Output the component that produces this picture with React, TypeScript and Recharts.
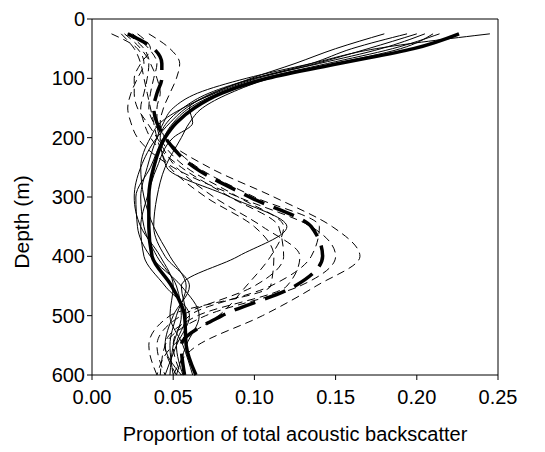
import React from 'react';
import { LineChart, Line, XAxis, YAxis, ReferenceLine, Label } from 'recharts';

// depth (m) at which every profile is sampled
const depths = [25, 50, 75, 100, 125, 150, 175, 200, 250, 300, 350, 400, 450, 500, 550, 600];

// thin solid profiles (surface maximum)
const solid1 = [0.245, 0.175, 0.135, 0.095, 0.065, 0.05, 0.044, 0.04, 0.034, 0.03, 0.032, 0.04, 0.052, 0.055, 0.05, 0.048];
const solid2 = [0.214, 0.185, 0.145, 0.105, 0.078, 0.06, 0.05, 0.044, 0.036, 0.027, 0.028, 0.036, 0.055, 0.066, 0.058, 0.052];
const solid3 = [0.194, 0.16, 0.135, 0.1, 0.074, 0.058, 0.048, 0.04, 0.03, 0.026, 0.03, 0.042, 0.05, 0.048, 0.056, 0.062];
const solid4 = [0.18, 0.15, 0.125, 0.098, 0.075, 0.06, 0.062, 0.05, 0.04, 0.034, 0.03, 0.032, 0.045, 0.06, 0.052, 0.045];
const solid5 = [0.21, 0.19, 0.15, 0.11, 0.085, 0.068, 0.06, 0.055, 0.045, 0.04, 0.038, 0.045, 0.06, 0.05, 0.045, 0.055];
const solid6 = [0.205, 0.178, 0.14, 0.1, 0.072, 0.056, 0.046, 0.042, 0.046, 0.085, 0.12, 0.09, 0.055, 0.058, 0.052, 0.056];
const solid7 = [0.2, 0.17, 0.138, 0.102, 0.076, 0.056, 0.042, 0.036, 0.03, 0.032, 0.038, 0.048, 0.058, 0.052, 0.048, 0.05];
const solidMean = [0.226, 0.198, 0.152, 0.108, 0.08, 0.063, 0.052, 0.045, 0.038, 0.035, 0.035, 0.037, 0.049, 0.057, 0.058, 0.064];

// thin dashed profiles (deep maximum)
const dashed1 = [0.035, 0.048, 0.054, 0.052, 0.048, 0.044, 0.042, 0.045, 0.072, 0.112, 0.148, 0.165, 0.138, 0.105, 0.065, 0.05];
const dashed2 = [0.012, 0.028, 0.032, 0.028, 0.024, 0.022, 0.024, 0.028, 0.05, 0.09, 0.135, 0.15, 0.128, 0.07, 0.045, 0.042];
const dashed3 = [0.025, 0.035, 0.04, 0.038, 0.036, 0.035, 0.038, 0.045, 0.065, 0.1, 0.14, 0.135, 0.11, 0.06, 0.05, 0.055];
const dashed4 = [0.02, 0.03, 0.035, 0.034, 0.032, 0.03, 0.032, 0.036, 0.055, 0.085, 0.115, 0.118, 0.1, 0.055, 0.04, 0.045];
const dashed5 = [0.022, 0.032, 0.036, 0.04, 0.042, 0.04, 0.04, 0.042, 0.058, 0.09, 0.118, 0.11, 0.095, 0.078, 0.05, 0.04];
const dashed6 = [0.028, 0.036, 0.03, 0.026, 0.026, 0.028, 0.034, 0.04, 0.052, 0.075, 0.105, 0.128, 0.12, 0.065, 0.045, 0.052];
const dashed7 = [0.018, 0.026, 0.03, 0.032, 0.034, 0.036, 0.038, 0.04, 0.048, 0.07, 0.1, 0.112, 0.11, 0.048, 0.035, 0.04];
const dashedMean = [0.022, 0.038, 0.043, 0.043, 0.04, 0.038, 0.04, 0.045, 0.063, 0.097, 0.135, 0.142, 0.125, 0.08, 0.055, 0.057];

const xTicks = [0, 0.05, 0.1, 0.15, 0.2, 0.25];
const yTicks = [0, 100, 200, 300, 400, 500, 600];

const thinSolid = [solid1, solid2, solid3, solid4, solid5, solid6, solid7];
const thinDashed = [dashed1, dashed2, dashed3, dashed4, dashed5, dashed6, dashed7];

const toRows = (values: number[]) => depths.map((depth, i) => ({ depth, v: values[i] }));

const font = '"Liberation Sans", Arial, sans-serif';
const tickStyle = { fill: '#000', fontSize: 20, fontFamily: font };

const DepthLabel = () => (
  <text x={21} y={222} transform="rotate(-90 21 222)" textAnchor="middle" dominantBaseline="central" fill="#000" fontSize={21} fontFamily={font}>
    Depth (m)
  </text>
);

export default function App() {
  return (
    <div style={{ position: 'absolute', left: 0, top: 0 }}>
      <LineChart width={545} height={452} layout="vertical" margin={{ top: 19, right: 47, bottom: 0, left: 0 }}>
        <XAxis
          type="number"
          domain={[0, 0.25]}
          ticks={xTicks}
          tickFormatter={(v: number) => v.toFixed(2)}
          tick={tickStyle}
          tickSize={5}
          tickMargin={10}
          height={77}
          stroke="#000"
          allowDataOverflow
          label={{ value: 'Proportion of total acoustic backscatter', position: 'insideBottom', offset: 11, fill: '#000', fontSize: 20, fontFamily: font }}
        />
        <YAxis
          type="number"
          dataKey="depth"
          domain={[0, 600]}
          ticks={yTicks}
          tick={tickStyle}
          tickSize={5}
          width={92}
          stroke="#000"
        >
          <Label content={<DepthLabel />} />
        </YAxis>
        <ReferenceLine y={0} stroke="#000" />
        <ReferenceLine x={0.25} stroke="#000" />
        {thinSolid.map((s, i) => (
          <Line key={`s${i}`} data={toRows(s)} dataKey="v" type="monotone" stroke="#000" strokeWidth={1} dot={false} isAnimationActive={false} />
        ))}
        {thinDashed.map((s, i) => (
          <Line key={`d${i}`} data={toRows(s)} dataKey="v" type="monotone" stroke="#000" strokeWidth={1} strokeDasharray="8 5" dot={false} isAnimationActive={false} />
        ))}
        <Line data={toRows(solidMean)} dataKey="v" type="monotone" stroke="#000" strokeWidth={3.5} dot={false} isAnimationActive={false} />
        <Line data={toRows(dashedMean)} dataKey="v" type="monotone" stroke="#000" strokeWidth={3.5} strokeDasharray="22 10" dot={false} isAnimationActive={false} />
      </LineChart>
    </div>
  );
}
